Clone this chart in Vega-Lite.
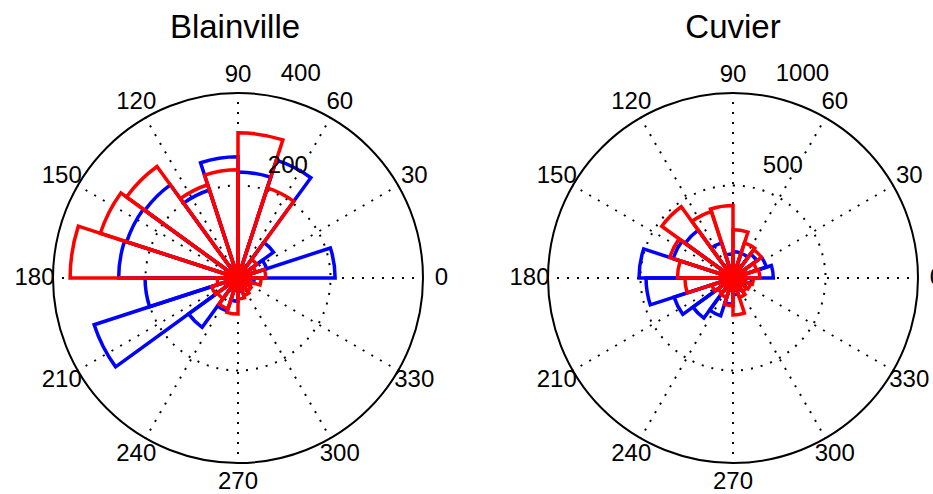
{
  "$schema": "https://vega.github.io/schema/vega-lite/v6.json",
  "width": 933,
  "height": 432,
  "autosize": {"type": "none"},
  "padding": {"top": 62, "left": 0, "right": 0, "bottom": 0},
  "background": "white",
  "config": {"view": {"stroke": null}, "font": "Liberation Sans"},
  "datasets": {
    "angles": [
      {"angle": 0, "label": "0"}, {"angle": 30, "label": "30"}, {"angle": 60, "label": "60"},
      {"angle": 90, "label": "90"}, {"angle": 120, "label": "120"}, {"angle": 150, "label": "150"},
      {"angle": 180, "label": "180"}, {"angle": 210, "label": "210"}, {"angle": 240, "label": "240"},
      {"angle": 270, "label": "270"}, {"angle": 300, "label": "300"}, {"angle": 330, "label": "330"}
    ],
    "blainville": [
      {"group": "A", "a0": 0, "a1": 18, "count": 210},
      {"group": "A", "a0": 18, "a1": 36, "count": 65},
      {"group": "A", "a0": 36, "a1": 54, "count": 95},
      {"group": "A", "a0": 54, "a1": 72, "count": 268},
      {"group": "A", "a0": 72, "a1": 90, "count": 229},
      {"group": "A", "a0": 90, "a1": 108, "count": 262},
      {"group": "A", "a0": 108, "a1": 126, "count": 200},
      {"group": "A", "a0": 126, "a1": 144, "count": 249},
      {"group": "A", "a0": 144, "a1": 162, "count": 253},
      {"group": "A", "a0": 162, "a1": 180, "count": 258},
      {"group": "A", "a0": 180, "a1": 198, "count": 201},
      {"group": "A", "a0": 198, "a1": 216, "count": 327},
      {"group": "A", "a0": 216, "a1": 234, "count": 132},
      {"group": "A", "a0": 234, "a1": 252, "count": 75},
      {"group": "A", "a0": 252, "a1": 270, "count": 50},
      {"group": "A", "a0": 270, "a1": 288, "count": 30},
      {"group": "A", "a0": 288, "a1": 306, "count": 25},
      {"group": "A", "a0": 306, "a1": 324, "count": 20},
      {"group": "A", "a0": 324, "a1": 342, "count": 25},
      {"group": "A", "a0": 342, "a1": 360, "count": 35},
      {"group": "B", "a0": 0, "a1": 18, "count": 60},
      {"group": "B", "a0": 18, "a1": 36, "count": 40},
      {"group": "B", "a0": 36, "a1": 54, "count": 50},
      {"group": "B", "a0": 54, "a1": 72, "count": 205},
      {"group": "B", "a0": 72, "a1": 90, "count": 314},
      {"group": "B", "a0": 90, "a1": 108, "count": 234},
      {"group": "B", "a0": 108, "a1": 126, "count": 212},
      {"group": "B", "a0": 126, "a1": 144, "count": 298},
      {"group": "B", "a0": 144, "a1": 162, "count": 313},
      {"group": "B", "a0": 162, "a1": 180, "count": 363},
      {"group": "B", "a0": 180, "a1": 198, "count": 45},
      {"group": "B", "a0": 198, "a1": 216, "count": 60},
      {"group": "B", "a0": 216, "a1": 234, "count": 55},
      {"group": "B", "a0": 234, "a1": 252, "count": 70},
      {"group": "B", "a0": 252, "a1": 270, "count": 78},
      {"group": "B", "a0": 270, "a1": 288, "count": 45},
      {"group": "B", "a0": 288, "a1": 306, "count": 40},
      {"group": "B", "a0": 306, "a1": 324, "count": 35},
      {"group": "B", "a0": 324, "a1": 342, "count": 30},
      {"group": "B", "a0": 342, "a1": 360, "count": 50}
    ],
    "cuvier": [
      {"group": "A", "a0": 0, "a1": 18, "count": 218},
      {"group": "A", "a0": 18, "a1": 36, "count": 190},
      {"group": "A", "a0": 36, "a1": 54, "count": 160},
      {"group": "A", "a0": 54, "a1": 72, "count": 140},
      {"group": "A", "a0": 72, "a1": 90, "count": 142},
      {"group": "A", "a0": 90, "a1": 108, "count": 130},
      {"group": "A", "a0": 108, "a1": 126, "count": 200},
      {"group": "A", "a0": 126, "a1": 144, "count": 320},
      {"group": "A", "a0": 144, "a1": 162, "count": 340},
      {"group": "A", "a0": 162, "a1": 180, "count": 508},
      {"group": "A", "a0": 180, "a1": 198, "count": 470},
      {"group": "A", "a0": 198, "a1": 216, "count": 335},
      {"group": "A", "a0": 216, "a1": 234, "count": 268},
      {"group": "A", "a0": 234, "a1": 252, "count": 215},
      {"group": "A", "a0": 252, "a1": 270, "count": 140},
      {"group": "A", "a0": 270, "a1": 288, "count": 90},
      {"group": "A", "a0": 288, "a1": 306, "count": 70},
      {"group": "A", "a0": 306, "a1": 324, "count": 60},
      {"group": "A", "a0": 324, "a1": 342, "count": 70},
      {"group": "A", "a0": 342, "a1": 360, "count": 100},
      {"group": "B", "a0": 0, "a1": 18, "count": 145},
      {"group": "B", "a0": 18, "a1": 36, "count": 135},
      {"group": "B", "a0": 36, "a1": 54, "count": 190},
      {"group": "B", "a0": 54, "a1": 72, "count": 200},
      {"group": "B", "a0": 72, "a1": 90, "count": 261},
      {"group": "B", "a0": 90, "a1": 108, "count": 392},
      {"group": "B", "a0": 108, "a1": 126, "count": 378},
      {"group": "B", "a0": 126, "a1": 144, "count": 476},
      {"group": "B", "a0": 144, "a1": 162, "count": 360},
      {"group": "B", "a0": 162, "a1": 180, "count": 300},
      {"group": "B", "a0": 180, "a1": 198, "count": 260},
      {"group": "B", "a0": 198, "a1": 216, "count": 120},
      {"group": "B", "a0": 216, "a1": 234, "count": 100},
      {"group": "B", "a0": 234, "a1": 252, "count": 110},
      {"group": "B", "a0": 252, "a1": 270, "count": 150},
      {"group": "B", "a0": 270, "a1": 288, "count": 200},
      {"group": "B", "a0": 288, "a1": 306, "count": 110},
      {"group": "B", "a0": 306, "a1": 324, "count": 90},
      {"group": "B", "a0": 324, "a1": 342, "count": 100},
      {"group": "B", "a0": 342, "a1": 360, "count": 110}
    ]
  },
  "resolve": {"scale": {"radius": "independent"}},
  "layer": [
    {
      "layer": [
        {
          "data": {"values": [{"ring": 200}]},
          "mark": {"type": "arc", "theta": 0, "theta2": 6.2832, "filled": false, "stroke": "#000000", "strokeWidth": 2, "strokeDash": [2, 8]},
          "encoding": {
            "x": {"datum": "Blainville", "type": "nominal", "scale": {"type": "point", "domain": ["Blainville", "Cuvier"], "range": [238, 733], "padding": 0}, "axis": null},
            "radius": {"field": "ring", "type": "quantitative", "scale": {"type": "linear", "domain": [0, 400], "range": [0, 185], "zero": true}}
          }
        },
        {
          "data": {"values": [{"ring": 400}]},
          "mark": {"type": "arc", "theta": 0, "theta2": 6.2832, "filled": false, "stroke": "#000000", "strokeWidth": 2},
          "encoding": {
            "x": {"datum": "Blainville", "type": "nominal", "axis": null},
            "radius": {"field": "ring", "type": "quantitative"}
          }
        },
        {
          "data": {"name": "angles"},
          "mark": {"type": "arc", "filled": false, "stroke": "#000000", "strokeWidth": 2, "strokeDash": [2, 8], "strokeDashOffset": 1},
          "encoding": {
            "x": {"datum": "Blainville", "type": "nominal", "axis": null},
            "theta": {"field": "angle", "type": "quantitative", "stack": null, "scale": {"type": "linear", "domain": [0, 360], "range": [1.5707963, -4.712389], "zero": false}},
            "theta2": {"field": "angle"},
            "radius": {"datum": 400, "type": "quantitative"}
          }
        },
        {
          "data": {"name": "blainville"},
          "mark": {"type": "arc", "filled": false, "strokeWidth": 3.5},
          "encoding": {
            "x": {"datum": "Blainville", "type": "nominal", "axis": null},
            "theta": {"field": "a0", "type": "quantitative", "stack": null},
            "theta2": {"field": "a1"},
            "radius": {"field": "count", "type": "quantitative"},
            "stroke": {"field": "group", "type": "nominal", "scale": {"domain": ["A", "B"], "range": ["#0000ff", "#ff0000"]}, "legend": null}
          }
        },
        {
          "data": {"name": "angles"},
          "mark": {"type": "text", "fontSize": 24, "align": "center", "baseline": "middle", "color": "#000000"},
          "encoding": {
            "x": {"datum": "Blainville", "type": "nominal", "axis": null},
            "theta": {"field": "angle", "type": "quantitative", "stack": null},
            "radius": {"datum": 440, "type": "quantitative"},
            "text": {"field": "label"}
          }
        },
        {
          "data": {"values": [{"r": 200, "t": "200"}, {"r": 400, "t": "400"}]},
          "mark": {"type": "text", "fontSize": 24, "align": "left", "baseline": "alphabetic", "dx": 17, "dy": -13.5, "color": "#000000"},
          "encoding": {
            "x": {"datum": "Blainville", "type": "nominal", "axis": null},
            "theta": {"datum": 82, "type": "quantitative"},
            "radius": {"field": "r", "type": "quantitative"},
            "text": {"field": "t"}
          }
        },
        {
          "data": {"values": [{"title": "Blainville"}]},
          "mark": {"type": "text", "fontSize": 33, "align": "center", "baseline": "alphabetic", "dy": -240, "dx": -3, "color": "#000000"},
          "encoding": {
            "x": {"datum": "Blainville", "type": "nominal", "axis": null},
            "text": {"field": "title"}
          }
        }
      ]
    },
    {
      "layer": [
        {
          "data": {"values": [{"ring": 500}]},
          "mark": {"type": "arc", "theta": 0, "theta2": 6.2832, "filled": false, "stroke": "#000000", "strokeWidth": 2, "strokeDash": [2, 8]},
          "encoding": {
            "x": {"datum": "Cuvier", "type": "nominal", "axis": null},
            "radius": {"field": "ring", "type": "quantitative", "scale": {"type": "linear", "domain": [0, 1000], "range": [0, 185], "zero": true}}
          }
        },
        {
          "data": {"values": [{"ring": 1000}]},
          "mark": {"type": "arc", "theta": 0, "theta2": 6.2832, "filled": false, "stroke": "#000000", "strokeWidth": 2},
          "encoding": {
            "x": {"datum": "Cuvier", "type": "nominal", "axis": null},
            "radius": {"field": "ring", "type": "quantitative"}
          }
        },
        {
          "data": {"name": "angles"},
          "mark": {"type": "arc", "filled": false, "stroke": "#000000", "strokeWidth": 2, "strokeDash": [2, 8], "strokeDashOffset": 1},
          "encoding": {
            "x": {"datum": "Cuvier", "type": "nominal", "axis": null},
            "theta": {"field": "angle", "type": "quantitative", "stack": null},
            "theta2": {"field": "angle"},
            "radius": {"datum": 1000, "type": "quantitative"}
          }
        },
        {
          "data": {"name": "cuvier"},
          "mark": {"type": "arc", "filled": false, "strokeWidth": 3.5},
          "encoding": {
            "x": {"datum": "Cuvier", "type": "nominal", "axis": null},
            "theta": {"field": "a0", "type": "quantitative", "stack": null},
            "theta2": {"field": "a1"},
            "radius": {"field": "count", "type": "quantitative"},
            "stroke": {"field": "group", "type": "nominal", "legend": null}
          }
        },
        {
          "data": {"name": "angles"},
          "mark": {"type": "text", "fontSize": 24, "align": "center", "baseline": "middle", "color": "#000000"},
          "encoding": {
            "x": {"datum": "Cuvier", "type": "nominal", "axis": null},
            "theta": {"field": "angle", "type": "quantitative", "stack": null},
            "radius": {"datum": 1100, "type": "quantitative"},
            "text": {"field": "label"}
          }
        },
        {
          "data": {"values": [{"r": 500, "t": "500"}, {"r": 1000, "t": "1000"}]},
          "mark": {"type": "text", "fontSize": 24, "align": "left", "baseline": "alphabetic", "dx": 17, "dy": -13.5, "color": "#000000"},
          "encoding": {
            "x": {"datum": "Cuvier", "type": "nominal", "axis": null},
            "theta": {"datum": 82, "type": "quantitative"},
            "radius": {"field": "r", "type": "quantitative"},
            "text": {"field": "t"}
          }
        },
        {
          "data": {"values": [{"title": "Cuvier"}]},
          "mark": {"type": "text", "fontSize": 33, "align": "center", "baseline": "alphabetic", "dy": -240, "color": "#000000"},
          "encoding": {
            "x": {"datum": "Cuvier", "type": "nominal", "axis": null},
            "text": {"field": "title"}
          }
        }
      ]
    }
  ]
}
